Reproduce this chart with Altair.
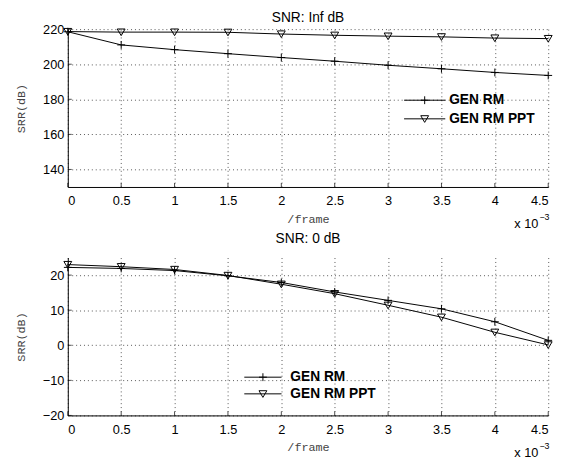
import altair as alt
import pandas as pd

# ---- data (x in units of 1e-3) ----
frame_x = [0, 0.5, 1, 1.5, 2, 2.5, 3, 3.5, 4, 4.5]
series_names = ["GEN RM", "GEN RM PPT"]
srr_inf_gen = [218.5, 211.0, 208.3, 206.0, 203.8, 201.7, 199.4, 197.4, 195.3, 193.6]
srr_inf_ppt = [218.6, 218.3, 218.3, 218.2, 217.2, 216.5, 216.0, 215.6, 214.9, 214.6]
srr_zero_gen = [22.2, 21.9, 21.3, 19.8, 17.9, 15.2, 12.8, 10.4, 6.7, 1.4]
srr_zero_ppt = [23.0, 22.4, 21.6, 19.9, 17.4, 14.7, 11.4, 8.0, 3.7, 0.1]
x_ticks = [0, 0.5, 1, 1.5, 2, 2.5, 3, 3.5, 4, 4.5]
y_ticks_inf = [140, 160, 180, 200, 220]
y_ticks_zero = [-20, -10, 0, 10, 20]
panel_titles = ["SNR: Inf dB", "SNR: 0 dB"]
x_title = "/frame"
y_title = "SRR(dB)"
exp_base = "x 10"
exp_power = "\u22123"

FONT = "Liberation Sans"
MONO = "Liberation Mono"
W, H = 490, 161
PLUS = "M-1,0H1M0,-1V1"
TRI = "M-1,-0.8H1L0,0.9Z"
shapes = [PLUS, TRI]


def panel(title, gen, ppt, ydom, yticks, leg, title_offset):
    n = len(frame_x)
    df = pd.DataFrame({
        "frame": frame_x * 2,
        "srr": gen + ppt,
        "series": [series_names[0]] * n + [series_names[1]] * n,
    })
    x = alt.X("frame:Q", scale=alt.Scale(domain=[0, 4.5], nice=False, zero=False),
              axis=alt.Axis(values=x_ticks, format="~g", title=x_title, grid=True,
                            ticks=False, labelPadding=8, titlePadding=6))
    y = alt.Y("srr:Q", scale=alt.Scale(domain=ydom, nice=False, zero=False),
              axis=alt.Axis(values=yticks, title=y_title, grid=True, ticks=False,
                            labelPadding=4, titlePadding=15))
    base = alt.Chart(df)
    layers = [base.mark_line(color="black", strokeWidth=1).encode(x=x, y=y, detail="series:N")]
    for name, shp in zip(series_names, shapes):
        layers.append(
            base.transform_filter(alt.datum.series == name)
            .mark_point(shape=shp, size=64, filled=False, color="black", strokeWidth=1, opacity=1)
            .encode(x="frame:Q", y="srr:Q")
        )
    # inward tick marks
    layers.append(
        alt.Chart(pd.DataFrame({"frame": x_ticks}))
        .mark_tick(color="black", size=4, thickness=1, yOffset=-2)
        .encode(x="frame:Q", y=alt.value(H))
    )
    layers.append(
        alt.Chart(pd.DataFrame({"srr": yticks}))
        .mark_tick(color="black", size=4, thickness=1, xOffset=2, orient="horizontal")
        .encode(y="srr:Q", x=alt.value(0))
    )
    # legend (drawn manually: line with marker + bold label)
    ldf = pd.DataFrame({"series": series_names})
    for i, (name, shp) in enumerate(zip(series_names, shapes)):
        yy = leg["y"][i]
        lb = alt.Chart(ldf).transform_filter(alt.datum.series == name)
        layers.append(lb.mark_rule(color="black", strokeWidth=1).encode(
            x=alt.value(leg["x0"]), x2=alt.value(leg["x1"]), y=alt.value(yy)))
        layers.append(lb.mark_point(shape=shp, size=64, filled=False, color="black",
                                    strokeWidth=1, opacity=1).encode(
            x=alt.value((leg["x0"] + leg["x1"]) / 2), y=alt.value(yy)))
        layers.append(lb.mark_text(align="left", baseline="middle", fontSize=14,
                                   fontWeight="bold", font=FONT, color="black").encode(
            x=alt.value(leg["xt"]), y=alt.value(yy), text="series:N"))
    # x 10^-3 multiplier
    edf = pd.DataFrame({"b": [exp_base], "p": [exp_power]})
    layers.append(alt.Chart(edf).mark_text(align="right", baseline="middle", fontSize=13,
                                           font=FONT, color="black").encode(
        x=alt.value(480), y=alt.value(H + 38), text="b:N"))
    layers.append(alt.Chart(edf).mark_text(align="left", baseline="middle", fontSize=9,
                                           font=FONT, color="black").encode(
        x=alt.value(481), y=alt.value(H + 31), text="p:N"))
    return alt.layer(*layers).properties(
        width=W, height=H,
        title=alt.Title(title, fontSize=14, font=FONT, fontWeight="normal",
                        anchor="middle", frame="group", offset=title_offset, color="black"),
    )


top = panel(panel_titles[0], srr_inf_gen, srr_inf_ppt, [130, 220], y_ticks_inf,
            {"x0": 343, "x1": 385, "xt": 389, "y": [72.5, 91.5]}, -1.5)
bottom = panel(panel_titles[1], srr_zero_gen, srr_zero_ppt, [-20, 25], y_ticks_zero,
               {"x0": 180, "x1": 218, "xt": 227, "y": [122, 139]}, 12)

chart = (
    alt.vconcat(top, bottom, spacing=1)
    .configure(padding={"left": 6, "top": -2, "right": 5, "bottom": 0}, background="white")
    .configure_view(stroke=None)
    .configure_axis(
        labelFont=FONT, labelFontSize=13, labelColor="black",
        titleFont=MONO, titleFontSize=12, titleColor="#444", titleFontWeight="normal",
        domainColor="black", domainWidth=1,
        gridColor="#555", gridDash=[1, 3], gridOpacity=1, gridWidth=1,
    )
)

chart.save("out.html", embed_options={"renderer": "svg", "actions": False})
